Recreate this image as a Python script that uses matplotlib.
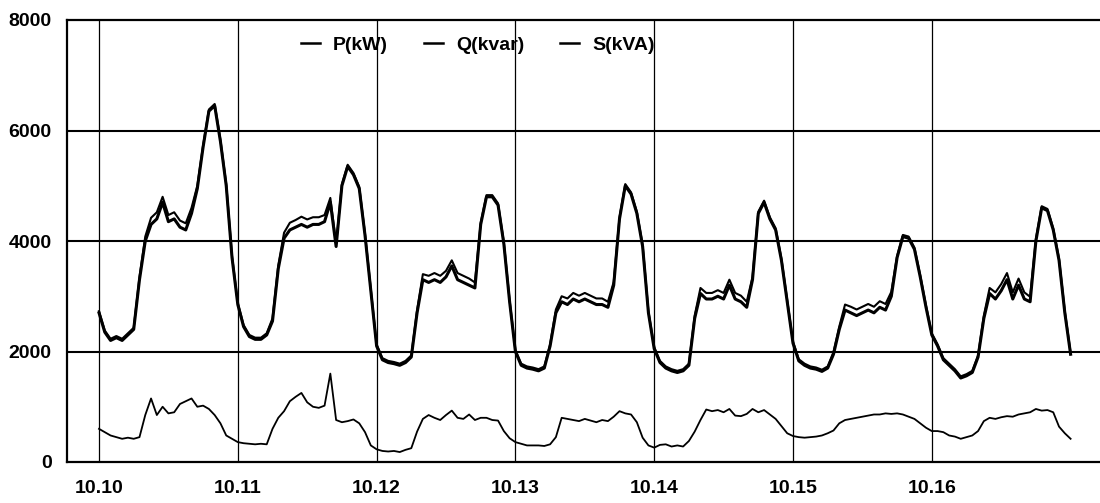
import numpy as np
import matplotlib
matplotlib.use("Agg")
import matplotlib.pyplot as plt

# hourly samples from 10.10 00:00 to 10.17 00:00 (169 points)
hours = np.arange(0, 169)
day_labels = ["10.10", "10.11", "10.12", "10.13", "10.14", "10.15", "10.16"]
y_ticks = [0, 2000, 4000, 6000, 8000]

P_kW = [
    2700, 2350, 2200, 2250, 2200, 2300, 2400, 3300, 4000, 4300, 4400, 4700,
    4350, 4400, 4250, 4200, 4500, 4950, 5700, 6350, 6450, 5800, 5000, 3700,
    2850, 2450, 2270, 2220, 2220, 2300, 2550, 3500, 4050, 4200, 4250, 4300,
    4250, 4300, 4300, 4350, 4700, 3900, 5000, 5350, 5200, 4950, 4100, 3100,
    2100, 1850, 1800, 1780, 1750, 1800, 1900, 2700, 3300, 3250, 3300, 3250,
    3350, 3550, 3300, 3250, 3200, 3150, 4300, 4800, 4800, 4650, 3950, 2900,
    2000, 1750, 1700, 1680, 1650, 1700, 2100, 2700, 2900, 2850, 2950, 2900,
    2950, 2900, 2850, 2850, 2800, 3200, 4400, 5000, 4850, 4500, 3900, 2700,
    2050, 1800, 1700, 1650, 1620, 1650, 1750, 2600, 3050, 2950, 2950, 3000,
    2950, 3200, 2950, 2900, 2800, 3300, 4500, 4700, 4400, 4200, 3650, 2900,
    2150, 1830, 1750, 1700, 1680, 1640, 1700, 1950, 2400, 2750, 2700, 2650,
    2700, 2750, 2700, 2800, 2750, 3000, 3700, 4080, 4050, 3850, 3350, 2800,
    2300, 2100, 1850, 1750, 1650, 1520, 1560, 1620, 1900, 2600, 3050, 2950,
    3100, 3300, 2950, 3200, 2950, 2900, 4000, 4600, 4550, 4200, 3650, 2700,
    1950,
]

Q_kvar = [
    600, 540, 480, 450, 420, 440, 420, 450, 850, 1150, 850, 1000,
    880, 900, 1050, 1100, 1150, 1000, 1020, 960, 850, 700, 480, 420,
    360, 340, 330, 320, 330, 320, 600, 800, 920, 1100, 1180, 1250,
    1080, 1000, 980, 1020, 1600, 760, 720, 740, 770, 700, 540, 300,
    230, 200, 190, 200, 180, 220, 250, 550, 780, 850, 800, 760,
    850, 930, 800, 780, 860, 760, 800, 800, 760, 750, 560, 430,
    360, 330, 300, 300, 300, 290, 320, 450, 800, 780, 760, 740,
    780, 750, 720, 760, 740, 820, 920, 880, 860, 720, 440, 300,
    260, 310, 320, 280, 300, 280, 380, 550, 760, 950, 920, 940,
    900, 960, 840, 830, 870, 960, 900, 940, 860, 780, 650, 520,
    470, 450, 440, 450, 460, 480, 520, 570, 700, 760, 780, 800,
    820, 840, 860, 860, 880, 870, 880, 860, 820, 780, 700, 620,
    560, 560, 540, 480, 460, 420, 450, 480, 560, 740, 800, 780,
    810, 830, 820, 860, 880, 900, 960, 930, 940, 900, 640, 520,
    420,
]

S_kVA = [
    2730, 2380, 2230, 2280, 2230, 2330, 2430, 3350, 4080, 4420, 4520, 4800,
    4470, 4520, 4370, 4320, 4600, 5000, 5730, 6380, 6480, 5830, 5030, 3730,
    2880, 2480, 2300, 2250, 2250, 2330, 2600, 3560, 4150, 4330, 4380, 4440,
    4390, 4430, 4430, 4470, 4780, 3950, 5030, 5380, 5230, 4980, 4130, 3130,
    2130, 1880, 1830, 1810, 1780, 1830, 1930, 2750, 3400, 3370, 3420, 3370,
    3460, 3650, 3420, 3370, 3320, 3250, 4330, 4830, 4830, 4680, 3980, 2930,
    2030, 1780, 1730, 1710, 1680, 1730, 2130, 2760, 3000, 2960, 3060, 3010,
    3060, 3010, 2960, 2960, 2900, 3260, 4430, 5030, 4880, 4530, 3930, 2730,
    2080, 1830, 1730, 1680, 1650, 1680, 1780, 2650, 3150, 3060, 3060, 3110,
    3060, 3300, 3060, 3010, 2900, 3350, 4530, 4730, 4430, 4230, 3680, 2930,
    2180, 1860, 1780, 1730, 1710, 1670, 1730, 1990, 2450, 2850, 2810, 2760,
    2810, 2860, 2810, 2910, 2860, 3080, 3730, 4110, 4080, 3880, 3380, 2830,
    2330, 2130, 1880, 1780, 1680, 1550, 1590, 1650, 1930, 2650, 3150, 3070,
    3220, 3420, 3070, 3320, 3070, 2990, 4040, 4630, 4580, 4230, 3680, 2730,
    1980,
]

plt.rcParams['font.family'] = ['Liberation Sans', 'DejaVu Sans']

fig = plt.figure(figsize=(11.0, 5.03), dpi=100)
ax = fig.add_axes([67 / 1100, 1 - 462 / 503, 1 - 67 / 1100, (462 - 20) / 503])

t = hours / 24.0
ax.plot(t, P_kW, color='black', lw=2.2, label='P(kW)', zorder=3)
ax.plot(t, Q_kvar, color='black', lw=1.3, label='Q(kvar)', zorder=3)
ax.plot(t, S_kVA, color='black', lw=1.5, label='S(kVA)', zorder=3)

px_per_day = 138.8
x_left = (67 - 99) / px_per_day
x_right = (1100 - 99) / px_per_day
ax.set_xlim(x_left, x_right)
ax.set_ylim(0, 8000)

ax.set_xticks(range(len(day_labels)))
ax.set_xticklabels(day_labels)
ax.set_yticks(y_ticks)
ax.set_yticklabels([str(v) for v in y_ticks])

for v in y_ticks[1:-1]:
    ax.axhline(v, color='black', lw=1.5, zorder=2)
for d in range(len(day_labels)):
    ax.axvline(d, color='black', lw=0.9, zorder=2)

for side in ['left', 'bottom', 'top']:
    ax.spines[side].set_linewidth(1.6)
    ax.spines[side].set_color('black')
ax.spines['right'].set_visible(False)

ax.tick_params(axis='both', length=0, labelsize=14)
ax.tick_params(axis='y', pad=11)
ax.tick_params(axis='x', pad=13)
for lbl in ax.get_xticklabels() + ax.get_yticklabels():
    lbl.set_fontweight('bold')

leg = fig.legend(loc='center', bbox_to_anchor=(478 / 1100, 1 - 45 / 503), ncol=3,
                 frameon=False, handlelength=0.95, handletextpad=0.7,
                 columnspacing=1.85, prop={'size': 14, 'weight': 'bold'})
for line in leg.get_lines():
    line.set_linewidth(1.8)

fig.savefig('out.png', dpi=100)
